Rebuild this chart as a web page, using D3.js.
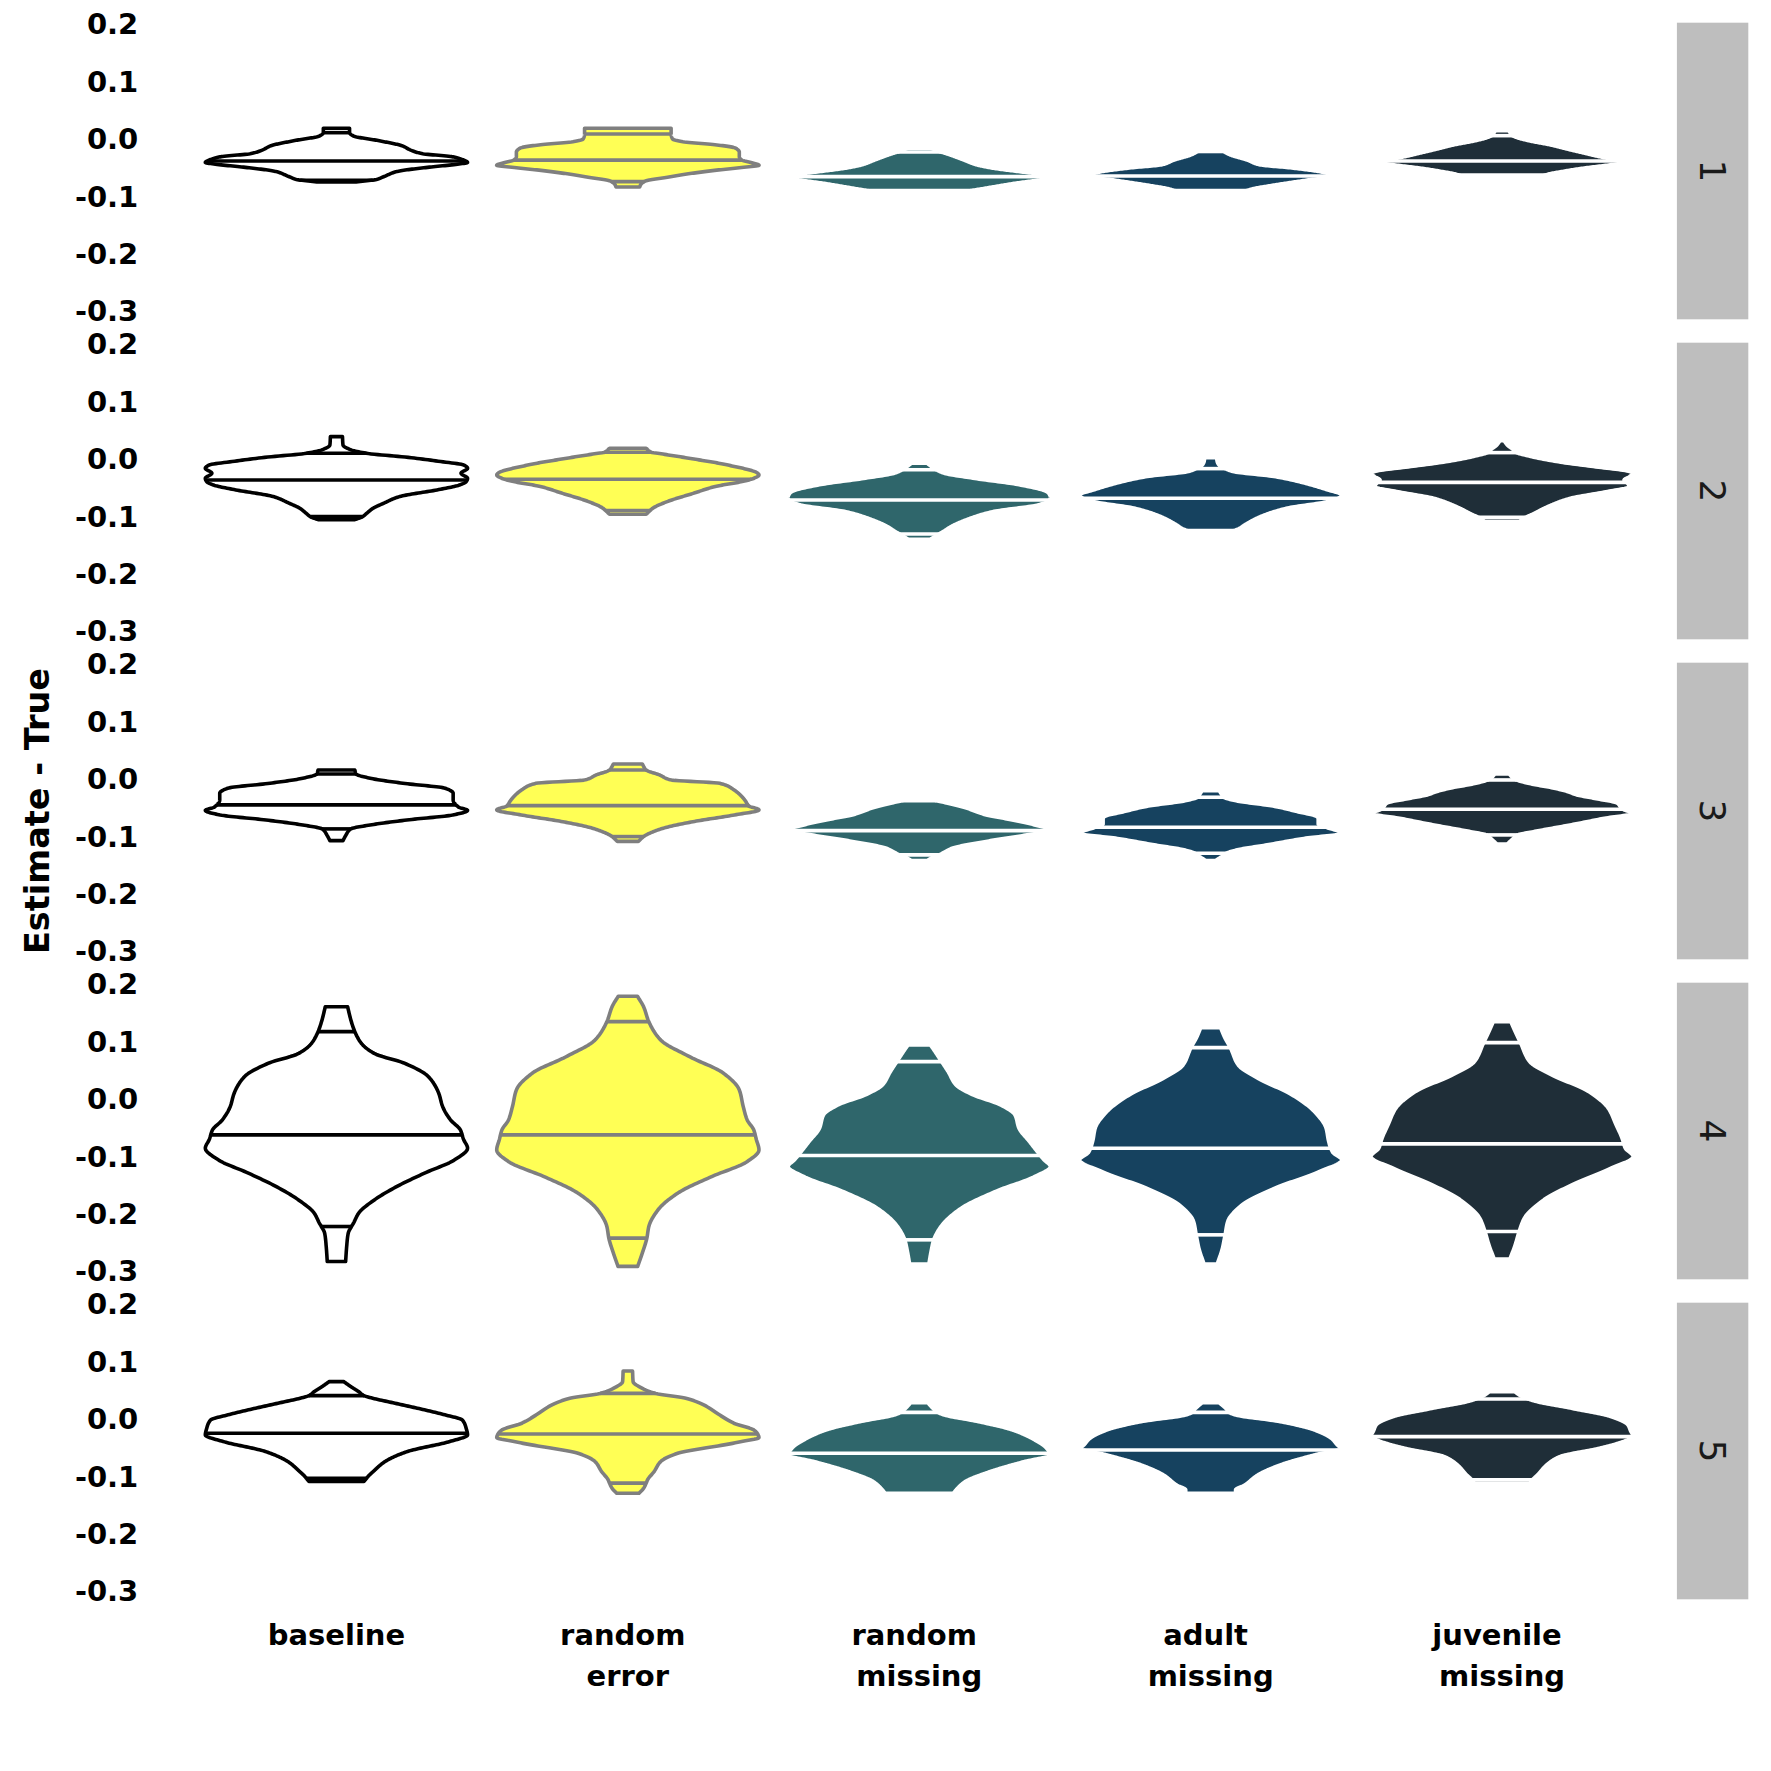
<!DOCTYPE html>
<html><head><meta charset="utf-8">
<script src="https://cdn.jsdelivr.net/npm/d3@7"></script>
<style>body{margin:0;background:#fff} svg{display:block}</style>
</head><body>
<svg id="chart" width="1771" height="1771"></svg>
<script>
// ---------------- data ----------------
const categories = ["baseline", "random error", "random missing", "adult missing", "juvenile missing"];
const categoryLabels = ["baseline", "random \nerror", "random \nmissing", "adult \nmissing", "juvenile \nmissing"];
const facets = ["1", "2", "3", "4", "5"];
const yTicks = [0.2, 0.1, 0.0, -0.1, -0.2, -0.3];
const yTitle = "Estimate - True";

// violin density profiles: [value, relative width], per facet, in category order
const profiles1 = [
  [[-0.074,0.15],[-0.070,0.30],[-0.065,0.36],[-0.056,0.46],[-0.048,0.72],[-0.043,0.93],[-0.040,1.0],[-0.036,0.97],[-0.030,0.88],[-0.025,0.66],[-0.019,0.57],[-0.011,0.50],[-0.002,0.32],[0.006,0.13],[0.012,0.10],[0.0195,0.10]],
  [[-0.083,0.09],[-0.078,0.10],[-0.072,0.14],[-0.066,0.30],[-0.060,0.46],[-0.054,0.66],[-0.049,0.86],[-0.045,1.0],[-0.041,0.95],[-0.036,0.87],[-0.030,0.85],[-0.022,0.85],[-0.015,0.82],[-0.009,0.66],[-0.004,0.42],[0.001,0.34],[0.010,0.33],[0.0195,0.33]],
  [[-0.0915,0.32],[-0.087,0.45],[-0.082,0.58],[-0.076,0.74],[-0.071,0.90],[-0.067,1.0],[-0.063,0.97],[-0.0607,0.92],[-0.055,0.72],[-0.050,0.56],[-0.0444,0.44],[-0.035,0.33],[-0.0258,0.22],[-0.020,0.14],[-0.0154,0.09]],
  [[-0.091,0.25],[-0.086,0.32],[-0.080,0.47],[-0.074,0.64],[-0.069,0.80],[-0.065,1.0],[-0.061,0.92],[-0.057,0.85],[-0.050,0.63],[-0.044,0.37],[-0.036,0.28],[-0.027,0.15],[-0.021,0.10],[-0.0154,0.07]],
  [[-0.0636,0.31],[-0.060,0.36],[-0.055,0.48],[-0.050,0.62],[-0.046,0.76],[-0.042,0.90],[-0.039,1.0],[-0.035,0.86],[-0.030,0.74],[-0.024,0.63],[-0.017,0.50],[-0.0096,0.37],[-0.003,0.22],[0.002,0.13],[0.0066,0.08],[0.0154,0.05]]
];
const profiles2 = [
  [[-0.105,0.14],[-0.0996,0.20],[-0.094,0.23],[-0.085,0.28],[-0.0764,0.36],[-0.0648,0.48],[-0.053,0.77],[-0.0444,0.94],[-0.0386,0.99],[-0.033,1.0],[-0.024,0.95],[-0.0154,1.0],[-0.0096,0.97],[-0.0038,0.80],[0.0038,0.54],[0.0107,0.23],[0.0177,0.10],[0.0252,0.05],[0.0398,0.046]],
  [[-0.0955,0.14],[-0.089,0.17],[-0.085,0.19],[-0.0735,0.30],[-0.059,0.50],[-0.047,0.67],[-0.0386,0.87],[-0.033,0.96],[-0.027,1.0],[-0.024,0.99],[-0.0096,0.76],[0.002,0.47],[0.0107,0.23],[0.0125,0.18],[0.0194,0.14]],
  [[-0.139,0.085],[-0.134,0.12],[-0.130,0.15],[-0.126,0.18],[-0.116,0.25],[-0.1025,0.39],[-0.091,0.56],[-0.079,0.91],[-0.072,0.99],[-0.066,1.0],[-0.060,0.99],[-0.056,0.97],[-0.0445,0.77],[-0.033,0.42],[-0.024,0.19],[-0.018,0.13],[-0.012,0.09],[-0.0067,0.06]],
  [[-0.1286,0.14],[-0.124,0.18],[-0.120,0.22],[-0.114,0.26],[-0.0996,0.38],[-0.085,0.58],[-0.0735,0.89],[-0.068,0.97],[-0.062,1.0],[-0.053,0.89],[-0.0415,0.72],[-0.030,0.49],[-0.021,0.17],[-0.016,0.11],[-0.0114,0.07],[-0.004,0.05],[0.0032,0.045]],
  [[-0.108,0.13],[-0.1008,0.18],[-0.0967,0.22],[-0.082,0.35],[-0.0677,0.52],[-0.056,0.80],[-0.0473,0.97],[-0.040,0.95],[-0.036,0.93],[-0.030,0.97],[-0.0241,1.0],[-0.021,0.97],[-0.0125,0.70],[-0.0038,0.42],[0.0067,0.19],[0.0119,0.11],[0.018,0.08],[0.025,0.04],[0.0328,0.015]]
];
const profiles3 = [
  [[-0.1066,0.05],[-0.098,0.07],[-0.0862,0.11],[-0.0793,0.26],[-0.0706,0.54],[-0.0618,0.89],[-0.054,1.0],[-0.048,0.93],[-0.0357,0.89],[-0.024,0.89],[-0.0154,0.83],[-0.0067,0.51],[0.002,0.26],[0.0095,0.15],[0.0165,0.14]],
  [[-0.108,0.08],[-0.0996,0.12],[-0.0967,0.14],[-0.085,0.27],[-0.0735,0.50],[-0.062,0.81],[-0.053,1.0],[-0.046,0.92],[-0.0386,0.90],[-0.030,0.87],[-0.0183,0.81],[-0.0067,0.70],[-0.0009,0.33],[0.008,0.24],[0.0165,0.14],[0.027,0.11]],
  [[-0.1414,0.06],[-0.136,0.10],[-0.1315,0.15],[-0.127,0.19],[-0.120,0.25],[-0.108,0.51],[-0.0967,0.82],[-0.091,0.97],[-0.088,1.0],[-0.0793,0.88],[-0.0706,0.71],[-0.0618,0.51],[-0.050,0.36],[-0.0415,0.22],[-0.037,0.13],[-0.0317,0.085]],
  [[-0.1414,0.036],[-0.135,0.08],[-0.1286,0.12],[-0.1228,0.20],[-0.114,0.43],[-0.1025,0.72],[-0.0938,1.0],[-0.0834,0.88],[-0.0776,0.82],[-0.0677,0.82],[-0.0648,0.81],[-0.0561,0.66],[-0.047,0.49],[-0.037,0.19],[-0.031,0.10],[-0.025,0.08],[-0.0195,0.065]],
  [[-0.1124,0.04],[-0.104,0.08],[-0.0967,0.12],[-0.091,0.24],[-0.0793,0.52],[-0.0677,0.78],[-0.059,1.0],[-0.053,0.93],[-0.050,0.91],[-0.0415,0.88],[-0.0328,0.70],[-0.027,0.57],[-0.0212,0.50],[-0.0154,0.40],[-0.0067,0.20],[-0.0009,0.11],[0.003,0.08],[0.0096,0.055]]
];
const profiles4 = [
  [[-0.2825,0.07],[-0.2564,0.078],[-0.233,0.09],[-0.2215,0.115],[-0.2157,0.13],[-0.198,0.17],[-0.175,0.29],[-0.1518,0.46],[-0.1286,0.67],[-0.1054,0.90],[-0.085,1.0],[-0.070,0.97],[-0.053,0.945],[-0.0357,0.87],[-0.0125,0.81],[0.0108,0.78],[0.040,0.70],[0.063,0.52],[0.080,0.29],[0.0979,0.19],[0.1182,0.14],[0.1385,0.11],[0.1617,0.085]],
  [[-0.291,0.075],[-0.268,0.11],[-0.2418,0.145],[-0.2215,0.16],[-0.1925,0.23],[-0.1634,0.38],[-0.1344,0.64],[-0.1083,0.91],[-0.088,1.0],[-0.070,0.98],[-0.053,0.96],[-0.0357,0.91],[-0.0125,0.88],[0.0166,0.85],[0.0456,0.73],[0.0746,0.47],[0.1037,0.25],[0.1356,0.16],[0.1617,0.12],[0.180,0.073]],
  [[-0.287,0.073],[-0.265,0.09],[-0.2447,0.11],[-0.239,0.12],[-0.2186,0.175],[-0.1896,0.32],[-0.1605,0.58],[-0.1344,0.88],[-0.117,1.0],[-0.105,0.95],[-0.0909,0.90],[-0.0734,0.84],[-0.050,0.76],[-0.027,0.73],[-0.0096,0.62],[0.008,0.41],[0.0253,0.28],[0.0485,0.22],[0.066,0.17],[0.0834,0.12],[0.095,0.085]],
  [[-0.287,0.05],[-0.259,0.09],[-0.236,0.11],[-0.2128,0.13],[-0.1838,0.24],[-0.1547,0.49],[-0.1257,0.83],[-0.1054,1.0],[-0.092,0.93],[-0.0734,0.90],[-0.050,0.88],[-0.021,0.79],[0.008,0.62],[0.037,0.36],[0.0601,0.21],[0.0903,0.15],[0.1066,0.11],[0.1252,0.075]],
  [[-0.278,0.06],[-0.2535,0.10],[-0.2302,0.13],[-0.207,0.17],[-0.178,0.30],[-0.149,0.53],[-0.12,0.83],[-0.0996,1.0],[-0.085,0.94],[-0.0676,0.915],[-0.0444,0.87],[-0.0154,0.81],[0.0137,0.66],[0.0427,0.38],[0.066,0.21],[0.099,0.14],[0.1182,0.10],[0.1356,0.066]]
];
const profiles5 = [
  [[-0.108,0.21],[-0.1025,0.23],[-0.0996,0.24],[-0.0909,0.28],[-0.0735,0.37],[-0.056,0.54],[-0.0387,0.86],[-0.027,1.0],[-0.016,0.99],[-0.001,0.96],[0.0078,0.83],[0.0194,0.62],[0.0281,0.45],[0.038,0.26],[0.0415,0.21],[0.0484,0.17],[0.0572,0.11],[0.066,0.055]],
  [[-0.1287,0.085],[-0.120,0.12],[-0.111,0.14],[-0.1054,0.15],[-0.0909,0.20],[-0.0735,0.25],[-0.059,0.38],[-0.050,0.58],[-0.0445,0.73],[-0.038,0.88],[-0.0317,1.0],[-0.0253,0.99],[-0.0183,0.96],[-0.0067,0.81],[0.0078,0.70],[0.0252,0.58],[0.037,0.44],[0.0455,0.21],[0.0543,0.11],[0.066,0.04],[0.0844,0.036]],
  [[-0.1333,0.24],[-0.1287,0.26],[-0.1229,0.28],[-0.1084,0.35],[-0.0909,0.54],[-0.0735,0.80],[-0.0619,1.0],[-0.050,0.97],[-0.0357,0.88],[-0.0183,0.71],[-0.0038,0.45],[0.0078,0.19],[0.0124,0.14],[0.018,0.11],[0.0293,0.064]],
  [[-0.133,0.19],[-0.1287,0.19],[-0.1229,0.19],[-0.1142,0.26],[-0.0967,0.36],[-0.0793,0.53],[-0.0619,0.79],[-0.050,1.0],[-0.0474,0.98],[-0.0329,0.92],[-0.0183,0.79],[-0.0038,0.53],[0.0078,0.19],[0.0124,0.14],[0.018,0.12],[0.0293,0.064]],
  [[-0.1113,0.21],[-0.1054,0.23],[-0.0967,0.27],[-0.0793,0.34],[-0.0648,0.44],[-0.0503,0.74],[-0.038,0.93],[-0.030,1.0],[-0.020,0.98],[-0.0096,0.96],[0.0049,0.83],[0.0194,0.53],[0.0322,0.245],[0.0357,0.20],[0.040,0.15],[0.0484,0.096]]
];

// quantile lines (2.5%, 50%, 97.5%) per facet, in category order
const quantiles1 = [[-0.071,-0.0375,0.0118],[-0.0735,-0.036,0.0096],[-0.089,-0.0648,-0.022],[-0.089,-0.0636,-0.021],[-0.062,-0.0375,0.0066]];
const quantiles2 = [[-0.0996,-0.0357,0.0107],[-0.089,-0.0346,0.0125],[-0.130,-0.0706,-0.018],[-0.124,-0.0677,-0.016],[-0.1008,-0.040,0.0119]];
const quantiles3 = [[-0.0862,-0.0444,0.0095],[-0.0996,-0.0456,0.0165],[-0.1315,-0.0892,-0.037],[-0.1286,-0.0834,-0.031],[-0.0967,-0.052,-0.0009]];
const quantiles4 = [[-0.2215,-0.0618,0.1182],[-0.2418,-0.0618,0.1356],[-0.2447,-0.0978,0.066],[-0.236,-0.085,0.0903],[-0.2302,-0.0775,0.099]];
const quantiles5 = [[-0.1025,-0.024,0.0415],[-0.111,-0.0253,0.0455],[-0.1287,-0.059,0.0124],[-0.1287,-0.0532,0.0124],[-0.1054,-0.030,0.0357]];

const fills = ["#FFFFFF", "#FFFF55", "#2F666B", "#16425F", "#1F2E38"];
const strokes = ["#000000", "#7F7F7F", "#FFFFFF", "#FFFFFF", "#FFFFFF"];

const allProfiles = [profiles1, profiles2, profiles3, profiles4, profiles5];
const allQuantiles = [quantiles1, quantiles2, quantiles3, quantiles4, quantiles5];

// ---------------- layout ----------------
const panelLeft = 161.6, panelRight = 1676.9;
const panelW = panelRight - panelLeft;
const panelTop0 = 22.7, panelH = 296.6, panelGap = 23.4;
const stripW = 71.4;
const boldFont = "'DejaVu Sans', sans-serif";
const lineW = 3.6;

const svg = d3.select("#chart");
svg.append("rect").attr("width", 1771).attr("height", 1771).attr("fill", "#fff");

const y = d3.scaleLinear().domain([-0.3135, 0.2035]).range([panelH, 0]);
const x = d3.scalePoint().domain(categories).range([0, panelW]).padding(0.6);
const halfMax = 0.45 * x.step();

// monotone cubic (Fritsch-Carlson) interpolation of width along value
function makeInterp(pts) {
  const xs = pts.map(p => p[0]), ys = pts.map(p => p[1]), n = xs.length;
  const h = [], d = [], m = new Array(n);
  for (let i = 0; i < n - 1; i++) { h[i] = xs[i+1] - xs[i]; d[i] = (ys[i+1] - ys[i]) / h[i]; }
  m[0] = d[0]; m[n-1] = d[n-2];
  for (let i = 1; i < n - 1; i++) {
    if (d[i-1] * d[i] <= 0) m[i] = 0;
    else {
      const w1 = 2*h[i] + h[i-1], w2 = h[i] + 2*h[i-1];
      m[i] = (w1 + w2) / (w1 / d[i-1] + w2 / d[i]);
    }
  }
  return function(v) {
    if (v <= xs[0]) return ys[0];
    if (v >= xs[n-1]) return ys[n-1];
    let i = 0; while (i < n - 2 && v > xs[i+1]) i++;
    const t = (v - xs[i]) / h[i], t2 = t*t, t3 = t2*t;
    return (2*t3 - 3*t2 + 1)*ys[i] + (t3 - 2*t2 + t)*h[i]*m[i] + (-2*t3 + 3*t2)*ys[i+1] + (t3 - t2)*h[i]*m[i+1];
  };
}

facets.forEach((f, fi) => {
  const top = panelTop0 + fi * (panelH + panelGap);
  const g = svg.append("g").attr("transform", `translate(${panelLeft},${top})`);

  // y axis
  const ax = g.append("g").call(d3.axisLeft(y).tickValues(yTicks).tickSize(0).tickPadding(23.3)
      .tickFormat(d => d.toFixed(1)));
  ax.select(".domain").remove();
  ax.selectAll("text").attr("font-family", boldFont).attr("font-weight", "bold")
    .attr("font-size", 29).attr("fill", "#000");

  // violins
  categories.forEach((c, ci) => {
    const knots = allProfiles[fi][ci];
    const fw = makeInterp(knots);
    const vmin = knots[0][0], vmax = knots[knots.length-1][0];
    const N = 240;
    const samples = d3.range(N + 1).map(k => vmin + (vmax - vmin) * k / N);
    const cx = x(c);
    const area = d3.area()
      .y(v => y(v))
      .x0(v => cx - fw(v) * halfMax)
      .x1(v => cx + fw(v) * halfMax);
    g.append("path").attr("d", area(samples))
      .attr("fill", fills[ci]).attr("stroke", strokes[ci])
      .attr("stroke-width", lineW).attr("stroke-linejoin", "round");
    allQuantiles[fi][ci].forEach(q => {
      const hw = fw(q) * halfMax;
      g.append("line").attr("x1", cx - hw).attr("x2", cx + hw)
        .attr("y1", y(q)).attr("y2", y(q))
        .attr("stroke", strokes[ci]).attr("stroke-width", lineW);
    });
  });

  // strip
  svg.append("rect").attr("x", panelRight).attr("y", top).attr("width", stripW).attr("height", panelH)
    .attr("fill", "#BEBEBE");
  svg.append("text").attr("transform", `translate(${panelRight + stripW/2},${top + panelH/2}) rotate(90)`)
    .attr("text-anchor", "middle").attr("dominant-baseline", "central")
    .attr("font-family", "'DejaVu Sans', sans-serif").attr("font-size", 36).attr("fill", "#1A1A1A")
    .text(f);
});

// x labels
categories.forEach((c, ci) => {
  const lines = categoryLabels[ci].split("\n");
  const t = svg.append("text").attr("text-anchor", "middle")
    .attr("font-family", boldFont).attr("font-weight", "bold").attr("font-size", 29)
    .attr("fill", "#000").style("white-space", "pre");
  lines.forEach((ln, li) => {
    t.append("tspan").attr("x", panelLeft + x(c)).attr("y", 1645 + li * 40.5).text(ln);
  });
});

// y title
svg.append("text").attr("transform", `translate(49,${panelTop0 + (5*panelH + 4*panelGap)/2}) rotate(-90)`)
  .attr("text-anchor", "middle").attr("font-family", boldFont).attr("font-weight", "bold")
  .attr("font-size", 33.5).attr("fill", "#000").text(yTitle);
</script>
</body></html>
